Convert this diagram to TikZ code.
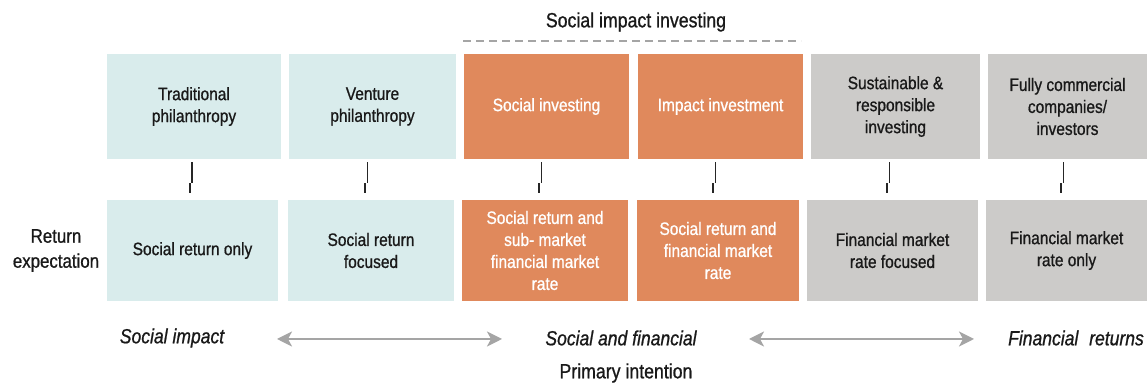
\documentclass[tikz,border=0pt]{standalone}
\usepackage{fontspec}
\setmainfont{Liberation Sans}[FakeStretch=0.86, FakeBold=0.9]
\usepackage{tikz}
\usetikzlibrary{arrows.meta}
\definecolor{socialblue}{RGB}{217,236,236}
\definecolor{impactorange}{RGB}{224,137,92}
\definecolor{marketgrey}{RGB}{204,203,201}
\definecolor{arrowgrey}{RGB}{165,165,165}
\definecolor{textdark}{RGB}{25,25,25}

\begin{document}
\begin{tikzpicture}[x=0.5pt, y=-0.5pt]
	\tikzstyle{every node} = [rectangle, inner sep=0pt, align=center, text=textdark,
		font=\fontsize{9}{11}\selectfont]
	\tikzstyle{social} = [fill=socialblue]
	\tikzstyle{impact} = [fill=impactorange, text=white]
	\tikzstyle{market} = [fill=marketgrey]
	\tikzstyle{toprow} = [minimum height=52.5pt]
	\tikzstyle{botrow} = [minimum height=50.5pt]
	\tikzstyle{heading} = [font=\fontsize{10.3}{12}\selectfont]
	\tikzstyle{intent} = [font=\fontsize{10.2}{12}\selectfont\itshape]
	\tikzstyle{tickline}   = [draw=black!85, line width=0.9pt]
	\tikzstyle{spanarrow}  = [draw=arrowgrey, line width=1.1pt, {Stealth[length=7.5pt,width=7.5pt,inset=2pt]}-{Stealth[length=7.5pt,width=7.5pt,inset=2pt]}]
	\useasboundingbox (0,0) rectangle (1147,383);
	% investor types
	\node[social, toprow, minimum width=87pt]   (t1) at (194,106.5)    {Traditional\\philanthropy};
	\node[social, toprow, minimum width=83.5pt] (t2) at (372.5,106.5)  {Venture\\philanthropy};
	\node[impact, toprow, minimum width=82.5pt] (t3) at (546.5,106.5)  {Social investing};
	\node[impact, toprow, minimum width=82.5pt] (t4) at (720.5,106.5)  {Impact investment};
	\node[market, toprow, minimum width=84.5pt] (t5) at (895.5,106.5)  {Sustainable \&\\responsible\\investing};
	\node[market, toprow, minimum width=79.5pt] (t6) at (1067.5,106.5) {Fully commercial\\companies/\\investors};
	% return expectation
	\node[font=\fontsize{9.8}{12.5}\selectfont] (ret) at (56,250.5) {Return\\expectation};
	\node[social, botrow, minimum width=85.5pt] (b1) at (192.5,250.5)  {Social return only};
	\node[social, botrow, minimum width=83pt]   (b2) at (371,250.5)    {Social return\\focused};
	\node[impact, botrow, minimum width=83pt]   (b3) at (545,250.5)    {Social return and\\sub- market\\financial market\\rate};
	\node[impact, botrow, minimum width=81pt]   (b4) at (718,250.5)    {Social return and\\financial market\\rate};
	\node[market, botrow, minimum width=85.5pt] (b5) at (892.5,250.5)  {Financial market\\rate focused};
	\node[market, botrow, minimum width=80.5pt] (b6) at (1066.5,250.5) {Financial market\\rate only};
	% ticks
	\draw[tickline] ([xshift=-1pt,yshift=-1.5pt]t1.south) -- ++(0,-10.5pt) ++(-1.2pt,0) -- ++(0,-5pt);
	\draw[tickline] ([xshift=-2.5pt,yshift=-1.5pt]t2.south) -- ++(0,-10.5pt) ++(-1.2pt,0) -- ++(0,-5pt);
	\draw[tickline] ([xshift=-2.5pt,yshift=-1.5pt]t3.south) -- ++(0,-10.5pt) ++(-1.2pt,0) -- ++(0,-5pt);
	\draw[tickline] ([xshift=-2.5pt,yshift=-1.5pt]t4.south) -- ++(0,-10.5pt) ++(-1.2pt,0) -- ++(0,-5pt);
	\draw[tickline] ([xshift=-3pt,yshift=-1.5pt]t5.south) -- ++(0,-10.5pt) ++(-1.2pt,0) -- ++(0,-5pt);
	\draw[tickline] ([xshift=-2pt,yshift=-1.5pt]t6.south) -- ++(0,-10.5pt) ++(-1.2pt,0) -- ++(0,-5pt);
	% social impact investing bracket
	\node[heading] (sii) at (636,22) {Social impact investing};
	\coordinate (siil) at (463,41);
	\coordinate (siir) at (801,41);
	\draw[arrowgrey, line width=1.1pt, dash pattern=on 4pt off 2.5pt] (siil) -- (siir);
	% primary intention
	\node[intent] (simp) at (172,338)  {Social impact};
	\node[intent] (sfin) at (621,338)  {Social and financial};
	\node[intent] (fret) at (1076,338) {Financial\hspace{3pt} returns};
	\coordinate (a1l) at (277,339);
	\coordinate (a1r) at (502,339);
	\coordinate (a2l) at (749,339);
	\coordinate (a2r) at (974,339);
	\draw[spanarrow] (a1l) -- (a1r);
	\draw[spanarrow] (a2l) -- (a2r);
	\node[heading] (prim) at (626,373) {Primary intention};
\end{tikzpicture}
\end{document}
